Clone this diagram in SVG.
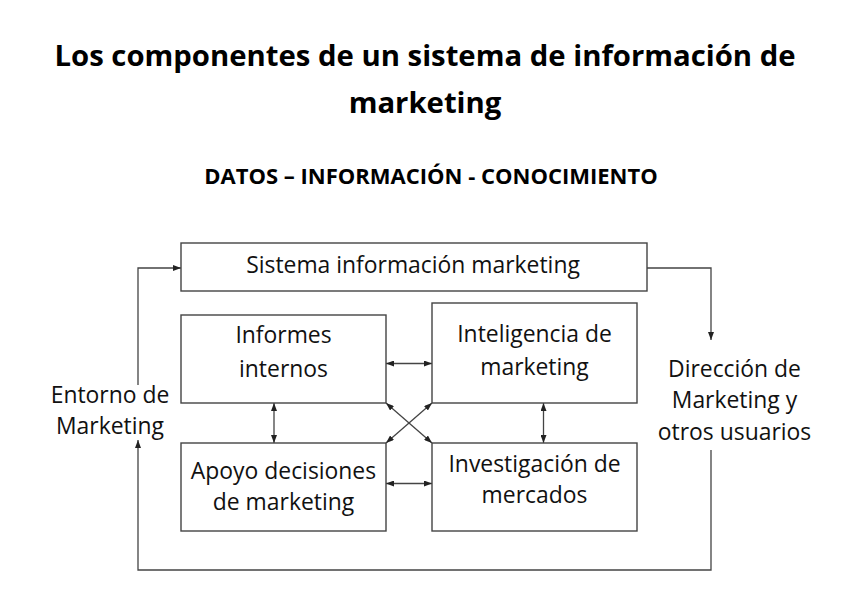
<svg xmlns="http://www.w3.org/2000/svg" width="848" height="599" viewBox="0 0 848 599">
<style>
.title{font-family:"Open Sans","Noto Sans",sans-serif;font-weight:bold;font-size:29.3px;fill:#000;text-anchor:middle}
.sub{font-family:"Open Sans","Noto Sans",sans-serif;font-weight:bold;font-size:22px;fill:#000;text-anchor:middle}
.lbl{font-family:"Open Sans","Noto Sans",sans-serif;font-size:22.9px;fill:#111;text-anchor:middle}
.box{fill:#fff;stroke:#444;stroke-width:1.4}
.ln{fill:none;stroke:#444;stroke-width:1.3}
</style>
<defs>
<marker id="ah" viewBox="0 0 8 6" refX="8" refY="3" markerWidth="8" markerHeight="6" markerUnits="userSpaceOnUse" orient="auto-start-reverse">
<path d="M0,0 L8,3 L0,6 z" fill="#222"/>
</marker>
</defs>
<rect width="848" height="599" fill="#fff"/>
<g id="titles">
<text class="title" x="425" y="66">Los componentes de un sistema de información de</text>
<text class="title" x="425" y="113">marketing</text>
<text class="sub" x="431" y="184">DATOS – INFORMACIÓN - CONOCIMIENTO</text>
</g>
<g id="connectors">
<line class="ln" x1="386" y1="363.5" x2="432" y2="363.5" marker-start="url(#ah)" marker-end="url(#ah)"/>
<line class="ln" x1="386" y1="483.5" x2="432" y2="483.5" marker-start="url(#ah)" marker-end="url(#ah)"/>
<line class="ln" x1="274" y1="403" x2="274" y2="443" marker-start="url(#ah)" marker-end="url(#ah)"/>
<line class="ln" x1="543.5" y1="403" x2="543.5" y2="443" marker-start="url(#ah)" marker-end="url(#ah)"/>
<line class="ln" x1="386" y1="403" x2="432" y2="443" marker-start="url(#ah)" marker-end="url(#ah)"/>
<line class="ln" x1="432" y1="403" x2="386" y2="443" marker-start="url(#ah)" marker-end="url(#ah)"/>
<polyline class="ln" points="647,268 711,268 711,340" marker-end="url(#ah)"/>
<polyline class="ln" points="138,385 138,268 181,268" marker-end="url(#ah)"/>
<polyline class="ln" points="711,450 711,570 138,570 138,440" marker-end="url(#ah)"/>
</g>
<g id="sistema">
<rect class="box" x="181" y="243" width="466" height="48"/>
<text class="lbl" x="413" y="273">Sistema información marketing</text>
</g>
<g id="informes">
<rect class="box" x="181" y="315" width="205" height="88"/>
<text class="lbl" x="283.5" y="343">Informes</text>
<text class="lbl" x="283.5" y="376.5">internos</text>
</g>
<g id="inteligencia">
<rect class="box" x="432" y="303" width="205" height="100"/>
<text class="lbl" x="534.5" y="341.5">Inteligencia de</text>
<text class="lbl" x="534.5" y="375">marketing</text>
</g>
<g id="apoyo">
<rect class="box" x="181" y="443" width="205" height="88"/>
<text class="lbl" x="283.5" y="479">Apoyo decisiones</text>
<text class="lbl" x="283.5" y="510">de marketing</text>
</g>
<g id="investigacion">
<rect class="box" x="432" y="443" width="205" height="88"/>
<text class="lbl" x="534.5" y="471.5">Investigación de</text>
<text class="lbl" x="534.5" y="503">mercados</text>
</g>
<g id="entorno">
<text class="lbl" x="110" y="403">Entorno de</text>
<text class="lbl" x="110" y="434">Marketing</text>
</g>
<g id="direccion">
<text class="lbl" x="734.5" y="377">Dirección de</text>
<text class="lbl" x="734.5" y="408">Marketing y</text>
<text class="lbl" x="734.5" y="440">otros usuarios</text>
</g>
</svg>
